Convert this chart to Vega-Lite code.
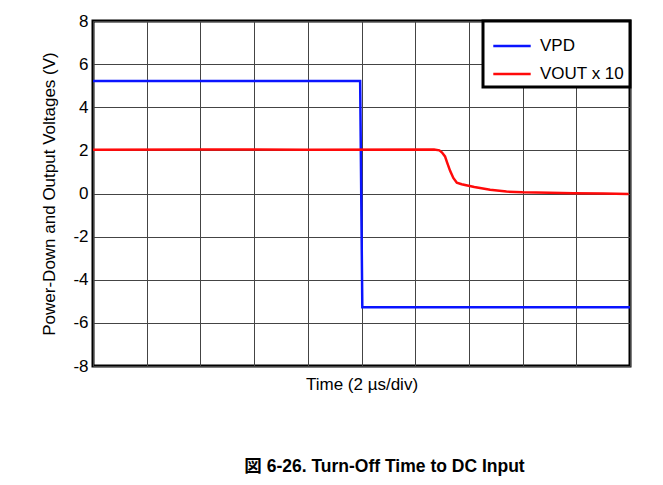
{
  "$schema": "https://vega.github.io/schema/vega-lite/v6.json",
  "autosize": "none",
  "width": 537,
  "height": 345,
  "padding": {"left": 93, "top": 21, "right": 33, "bottom": 119},
  "background": "white",
  "title": {
    "text": "図 6-26. Turn-Off Time to DC Input",
    "orient": "bottom",
    "anchor": "middle",
    "frame": "group",
    "dx": 23,
    "offset": 66,
    "font": "Liberation Sans, Noto Sans CJK JP",
    "fontSize": 17.5,
    "fontWeight": "bold",
    "color": "black"
  },
  "data": {
    "values": [
      {"t": 0, "v": 5.22, "s": "VPD"},
      {"t": 9.95, "v": 5.22, "s": "VPD"},
      {"t": 10.03, "v": -5.27, "s": "VPD"},
      {"t": 20, "v": -5.27, "s": "VPD"},
      {"t": 0, "v": 2.03, "s": "VOUT x 10"},
      {"t": 4, "v": 2.04, "s": "VOUT x 10"},
      {"t": 8, "v": 2.03, "s": "VOUT x 10"},
      {"t": 12.7, "v": 2.04, "s": "VOUT x 10"},
      {"t": 12.9, "v": 2.0, "s": "VOUT x 10"},
      {"t": 13.0, "v": 1.9, "s": "VOUT x 10"},
      {"t": 13.11, "v": 1.72, "s": "VOUT x 10"},
      {"t": 13.2, "v": 1.4, "s": "VOUT x 10"},
      {"t": 13.3, "v": 1.05, "s": "VOUT x 10"},
      {"t": 13.42, "v": 0.72, "s": "VOUT x 10"},
      {"t": 13.55, "v": 0.5, "s": "VOUT x 10"},
      {"t": 13.73, "v": 0.43, "s": "VOUT x 10"},
      {"t": 14.2, "v": 0.3, "s": "VOUT x 10"},
      {"t": 14.79, "v": 0.17, "s": "VOUT x 10"},
      {"t": 15.4, "v": 0.09, "s": "VOUT x 10"},
      {"t": 16.0, "v": 0.055, "s": "VOUT x 10"},
      {"t": 17.0, "v": 0.03, "s": "VOUT x 10"},
      {"t": 17.9, "v": 0.01, "s": "VOUT x 10"},
      {"t": 19.0, "v": 0.0, "s": "VOUT x 10"},
      {"t": 19.95, "v": -0.02, "s": "VOUT x 10"}
    ]
  },
  "mark": {"type": "line", "strokeWidth": 2.5, "clip": true},
  "encoding": {
    "x": {
      "field": "t",
      "type": "quantitative",
      "scale": {"domain": [0, 20], "nice": false},
      "axis": {
        "values": [0, 2, 4, 6, 8, 10, 12, 14, 16, 18, 20],
        "labels": false,
        "ticks": false,
        "domain": false,
        "title": "Time (2 µs/div)",
        "titlePadding": 10
      }
    },
    "y": {
      "field": "v",
      "type": "quantitative",
      "scale": {"domain": [-8, 8], "nice": false},
      "axis": {
        "values": [-8, -6, -4, -2, 0, 2, 4, 6, 8],
        "labelExpr": "'' + datum.value",
        "ticks": false,
        "domain": false,
        "labelPadding": 5,
        "title": "Power-Down and Output Voltages (V)",
        "titlePadding": 14
      }
    },
    "color": {
      "field": "s",
      "type": "nominal",
      "sort": ["VPD", "VOUT x 10"],
      "scale": {"domain": ["VPD", "VOUT x 10"], "range": ["#0a14ff", "#ff0a0a"]},
      "legend": {"title": null}
    },
    "detail": {"field": "s"}
  },
  "config": {
    "font": "Liberation Sans",
    "view": {"stroke": "black", "strokeWidth": 3},
    "axis": {
      "grid": true,
      "gridColor": "#444444",
      "gridWidth": 1,
      "gridOpacity": 1,
      "labelFont": "Liberation Sans",
      "labelFontSize": 17,
      "labelColor": "black",
      "titleFont": "Liberation Sans",
      "titleFontSize": 17,
      "titleFontWeight": "normal",
      "titleColor": "black"
    },
    "legend": {
      "orient": "top-right",
      "offset": 0,
      "fillColor": "white",
      "strokeColor": "black",
      "strokeWidth": 3,
      "padding": 5,
      "symbolType": "stroke",
      "symbolSize": 1400,
      "symbolStrokeWidth": 2.5,
      "symbolOffset": 4,
      "labelFont": "Liberation Sans",
      "labelFontSize": 17,
      "labelColor": "black",
      "rowPadding": -18,
      "labelOffset": 8,
      "labelLimit": 200
    }
  }
}
